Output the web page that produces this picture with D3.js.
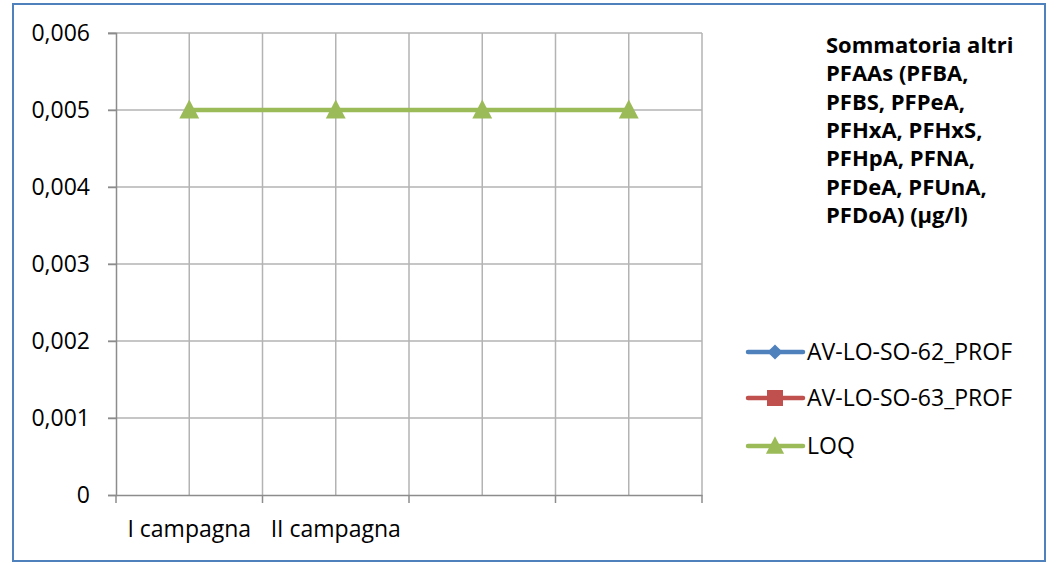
<!DOCTYPE html>
<html><head><meta charset="utf-8">
<script src="https://cdn.jsdelivr.net/npm/d3@7"></script>
<style>body{margin:0;background:#fff}svg{display:block}text{font-family:"Open Sans",sans-serif}</style>
</head><body><svg id="c" width="1059" height="563"></svg>
<script>
const categories = ["I campagna", "II campagna", "", ""];
const serie62 = [null, null, null, null];
const serie63 = [null, null, null, null];
const loq = [0.005, 0.005, 0.005, 0.005];
const yTicks = [0, 0.001, 0.002, 0.003, 0.004, 0.005, 0.006];
const seriesNames = ["AV-LO-SO-62_PROF", "AV-LO-SO-63_PROF", "LOQ"];
const titleLines = ["Sommatoria altri", "PFAAs (PFBA,", "PFBS, PFPeA,", "PFHxA, PFHxS,", "PFHpA, PFNA,", "PFDeA, PFUnA,", "PFDoA) (µg/l)"];

const svg = d3.select("#c");
const colors = ["#4F81BD", "#C0504D", "#9BBB59"];
const L = 116, R = 702, T = 33, B = 495;

svg.append("rect").attr("x", 13).attr("y", 4).attr("width", 1032).attr("height", 557)
  .attr("fill", "#fff").attr("stroke", "#4F81BD").attr("stroke-width", 2);

const x = d3.scaleBand().domain(categories.map((c, i) => i)).range([L, R]).paddingInner(0).paddingOuter(0);
const y = d3.scaleLinear().domain([0, 0.006]).range([B, T]);
const cx = i => x(i) + x.bandwidth() / 2;

const g = svg.append("g");
g.selectAll(".hg").data(yTicks.filter(d => d > 0)).join("line")
  .attr("x1", L - 8).attr("x2", R).attr("y1", d => y(d)).attr("y2", d => y(d))
  .attr("stroke", "#B3B3B3").attr("stroke-width", 1.5);
const vpos = [];
categories.forEach((c, i) => { vpos.push(x(i)); vpos.push(cx(i)); });
vpos.push(R);
g.selectAll(".vg").data(vpos.slice(1)).join("line")
  .attr("x1", d => d).attr("x2", d => d).attr("y1", T).attr("y2", B)
  .attr("stroke", "#B3B3B3").attr("stroke-width", 1.5);

const ya = d3.axisLeft(y).tickValues(yTicks).tickSize(8).tickPadding(18)
  .tickFormat(d => d === 0 ? "0" : d3.format(".3f")(d).replace(".", ","));
const yg = svg.append("g").attr("transform", `translate(${L},0)`).call(ya);
yg.selectAll("path,line").attr("stroke", "#8C8C8C").attr("stroke-width", 1.5);
yg.selectAll("text").attr("font-size", 23).attr("fill", "#000").attr("font-family", "Open Sans, sans-serif");

const xa = d3.axisBottom(x).tickSize(0).tickFormat(i => categories[i]).tickPadding(26);
const xg = svg.append("g").attr("transform", `translate(0,${B})`).call(xa);
xg.select("path").attr("stroke", "#8C8C8C").attr("stroke-width", 1.5);
xg.selectAll("text").attr("font-size", 23).attr("fill", "#000").attr("font-family", "Open Sans, sans-serif");
xg.selectAll(".bt").data(categories.map((c, i) => x(i)).concat([R])).join("line")
  .attr("x1", d => d).attr("x2", d => d).attr("y1", 0).attr("y2", 8)
  .attr("stroke", "#8C8C8C").attr("stroke-width", 1.5);

const diamond = {draw(ctx, size) { const r = Math.sqrt(size / 2); ctx.moveTo(0, -r); ctx.lineTo(r, 0); ctx.lineTo(0, r); ctx.lineTo(-r, 0); ctx.closePath(); }};
const triangle = {draw(ctx, size) { const w = Math.sqrt(size * 1.1); const h = w * 0.95; ctx.moveTo(0, -h / 2); ctx.lineTo(w / 2, h / 2); ctx.lineTo(-w / 2, h / 2); ctx.closePath(); }};
const symbols = [diamond, d3.symbolSquare, triangle];

const allSeries = [serie62, serie63, loq];
const line = d3.line().defined(d => d != null).x((d, i) => cx(i)).y(d => y(d));
allSeries.forEach((s, k) => {
  svg.append("path").datum(s).attr("d", line).attr("fill", "none")
    .attr("stroke", colors[k]).attr("stroke-width", 4.5);
  svg.selectAll(null).data(s.map((v, i) => ({v, i})).filter(d => d.v != null)).join("path")
    .attr("d", d3.symbol(symbols[k], 360))
    .attr("transform", d => `translate(${cx(d.i)},${y(d.v) - 1})`)
    .attr("fill", colors[k]);
});

const tt = svg.append("text").attr("x", 826).attr("y", 53).attr("font-size", 22).attr("font-weight", "bold").attr("fill", "#000");
titleLines.forEach((t, i) => tt.append("tspan").attr("x", 826).attr("y", 53 + i * 28.3).text(t));

const ly = [352, 398, 446];
const lsize = [115, 256, 300];
seriesNames.forEach((n, k) => {
  svg.append("line").attr("x1", 748).attr("x2", 803).attr("y1", ly[k]).attr("y2", ly[k])
    .attr("stroke", colors[k]).attr("stroke-width", 4.5).attr("stroke-linecap", "round");
  svg.append("path").attr("d", d3.symbol(symbols[k], lsize[k]))
    .attr("transform", `translate(775,${ly[k] - (k === 2 ? 1 : 0)})`).attr("fill", colors[k]);
  svg.append("text").attr("x", 807).attr("y", ly[k]).attr("dy", "0.36em").attr("font-size", 23).attr("fill", "#000").text(n);
});
</script></body></html>
